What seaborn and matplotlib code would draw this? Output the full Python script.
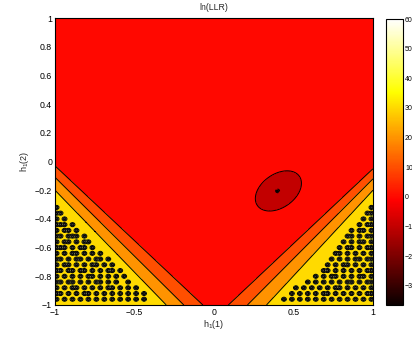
import numpy as np
import matplotlib
matplotlib.use("Agg")
import matplotlib.pyplot as plt
import seaborn as sns
from matplotlib.colors import Normalize
from matplotlib.cm import ScalarMappable

# ---------------- values ----------------
title_text = "ln(LLR)"
x_label = "h$_1$(1)"
y_label = "h$_1$(2)"
x_ticks = [-1, -0.5, 0, 0.5, 1]
x_tick_labels = ["\u22121", "\u22120.5", "0", "0.5", "1"]
y_ticks = [-1, -0.8, -0.6, -0.4, -0.2, 0, 0.2, 0.4, 0.6, 0.8, 1]
y_tick_labels = ["\u22121", "\u22120.8", "\u22120.6", "\u22120.4", "\u22120.2", "0",
                 "0.2", "0.4", "0.6", "0.8", "1"]
cbar_ticks = [-30, -20, -10, 0, 10, 20, 30, 40, 50, 60]
cbar_min, cbar_max = -36.5, 60
contour_levels = [-40, -30, -20, -10, 0, 10, 20, 30, 40, 50, 60, 70]

# the three straight contour lines (levels 10, 20, 30) forming the "V"
band_levels = [10, 20, 30]
band_left_edge_y = [-0.03, -0.11, -0.20]     # where they meet x = -1
band_bottom_x_left = [-0.07, -0.19, -0.30]   # where they meet y = -1 (left arm)
band_bottom_x_right = [0.09, 0.21, 0.33]     # where they meet y = -1 (right arm)
band_right_edge_y = [-0.05, -0.12, -0.20]    # where they meet x = 1
plateau_low = 5      # flat red region value
plateau_high = 35    # yellow corner value

# dark-red closed contour (level 0) and the minimum point
ellipse_center = (0.405, -0.205)
ellipse_sd = (0.145, 0.14)
ellipse_rho = 0.38
ellipse_floor = -5
min_point = (0.40, -0.205)
min_value = -36

# noisy spots in the yellow corners ('#' = spot); rows from y=-0.32 downwards
spike_peak = 68
spot_row_y0, spot_row_dy = -0.32, 0.04
spot_col_dx = 0.025
left_spots = [
    "#.........................",
    "##........................",
    "#.#.......................",
    "###.#.....................",
    "#.##.#....................",
    "##.###.#..................",
    "#.##.#.##.................",
    "###.#.##.#................",
    "#.#.##.#.#.#..............",
    "##.#.##.#.##.#............",
    "#.##.#.#.##.#.#...........",
    "##.##.##.#.#.##.#.........",
    "#.#.#.#.##.#.#.#.#........",
    "##.##.#.#.##.#.#..#.......",
    "#.#.##.#.#.#.##.#.#.#.....",
    "##.#.#.##.#.#.#.#.#.#.#...",
    "#.#.#.#.#.#.#.#.#.#.#.#...",
]
right_spots = [
    "#.........................",
    "##........................",
    "#.#.......................",
    "##.#......................",
    "#.##.#....................",
    "##.#.##...................",
    "#.##.#.#..................",
    "##.#.##.#.................",
    "#.#.#.#.##................",
    "##.##.#.#.#...............",
    "#.#.#.##.#.#..............",
    "##.#.#.#.#.##.............",
    "#.##.#.#.##.#.#...........",
    "##.#.##.#.#.#.#.#.........",
    "#.#.#.#.##.#.#.#.#.#......",
    "##.#.#.#.#.##.#.#.#.#.....",
    "#.#.#.#.#.#.#.#.#.#.#.#...",
]

# ---------------- build the surface ----------------
n = 501
gx = np.linspace(-1, 1, n)
gy = np.linspace(-1, 1, n)
X, Y = np.meshgrid(gx, gy)


def band_y(k, x):
    yl = band_left_edge_y[k] + (x + 1) * (-1 - band_left_edge_y[k]) / (band_bottom_x_left[k] + 1)
    yr = -1 + (x - band_bottom_x_right[k]) * (band_right_edge_y[k] + 1) / (1 - band_bottom_x_right[k])
    return np.maximum(yl, yr)


Y1, Y2, Y3 = (band_y(k, X) for k in range(3))
L1, L2, L3 = band_levels
step = L2 - L1
f = np.where(Y >= Y1, L1 - (Y - Y1) / (Y1 - Y2) * step,
     np.where(Y >= Y2, L1 + (Y1 - Y) / (Y1 - Y2) * step,
     np.where(Y >= Y3, L2 + (Y2 - Y) / (Y2 - Y3) * step,
              L3 + (Y3 - Y) / (Y2 - Y3) * step)))
f = np.clip(f, plateau_low, plateau_high)

cx, cy = ellipse_center
sx, sy = ellipse_sd
dx, dy = X - cx, Y - cy
Q = (dx**2 / sx**2 - 2 * ellipse_rho * dx * dy / (sx * sy) + dy**2 / sy**2) / (1 - ellipse_rho**2)
f = f - (plateau_low - ellipse_floor) * np.clip(1 - Q / 2, 0, None)
r2 = (X - min_point[0])**2 + (Y - min_point[1])**2
f = f + (min_value - ellipse_floor) * np.exp(-r2 / (2 * 0.0065**2))

amp = spike_peak - plateau_high
for rows, x0, sgn in ((left_spots, -0.99, 1), (right_spots, 0.99, -1)):
    for i, row in enumerate(rows):
        yc = spot_row_y0 - spot_row_dy * i
        for j, ch in enumerate(row):
            if ch == "#":
                xc = x0 + sgn * spot_col_dx * j
                f = f + amp * np.exp(-((X - xc)**2 / (2 * 0.0078**2) + (Y - yc)**2 / (2 * 0.0072**2)))

# ---------------- draw ----------------
sns.set_style("ticks")
plt.rcParams["font.family"] = ["Liberation Sans", "DejaVu Sans"]
plt.rcParams["mathtext.fontset"] = "custom"
plt.rcParams["mathtext.rm"] = "Liberation Sans"
plt.rcParams["mathtext.default"] = "regular"

cmap = plt.get_cmap("hot")
norm = Normalize(cbar_min, cbar_max)
fill_colors = [cmap(norm(max(lv, cbar_min))) for lv in contour_levels[:-1]]

fig = plt.figure(figsize=(4.12, 3.40), dpi=100)
ax = fig.add_axes([55 / 412, 35 / 340, 318 / 412, 287 / 340])
ax.contourf(X, Y, f, levels=contour_levels, colors=fill_colors)
ax.contour(X, Y, f, levels=contour_levels, colors="k", linewidths=0.7)

ax.set_xlim(-1, 1)
ax.set_ylim(-1, 1)
ax.set_xticks(x_ticks)
ax.set_xticklabels(x_tick_labels)
ax.set_yticks(y_ticks)
ax.set_yticklabels(y_tick_labels)
ax.tick_params(direction="in", top=True, right=True, length=3, width=0.5,
               labelsize=6.3, pad=2, colors="k")
for s in ax.spines.values():
    s.set_linewidth(0.8)
    s.set_color("k")
ax.set_title(title_text, fontsize=6.3, pad=5.5)
ax.set_xlabel(x_label, fontsize=6.5, labelpad=1)
ax.set_ylabel(y_label, fontsize=6.5, labelpad=3)

cax = fig.add_axes([386 / 412, 35 / 340, 17 / 412, 286 / 340])
sm = ScalarMappable(norm=norm, cmap=cmap)
cb = fig.colorbar(sm, cax=cax, ticks=cbar_ticks)
cb.outline.set_linewidth(0.8)
cb.outline.set_edgecolor("k")
cax.tick_params(direction="in", length=2, width=0.5, labelsize=5, pad=1.5, colors="k")
cax.set_yticklabels([str(t).replace("-", "\u2212") for t in cbar_ticks])

fig.savefig("out.png", dpi=100)
